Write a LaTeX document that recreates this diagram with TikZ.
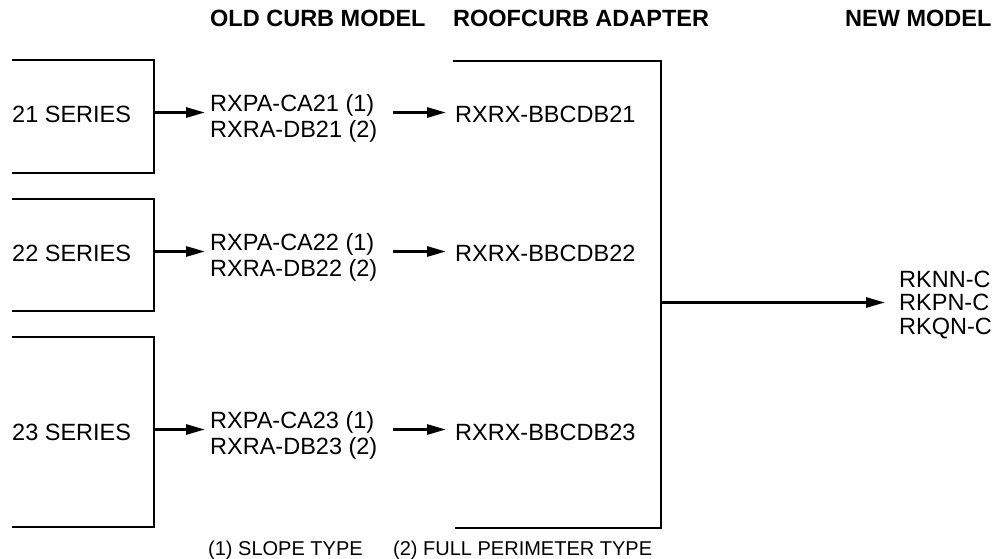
\documentclass[tikz,border=0pt]{standalone}
\usepackage{fontspec}
\setmainfont{Liberation Sans}
\usetikzlibrary{arrows.meta}
\begin{document}
\begin{tikzpicture}[x=1pt,y=-1pt,
  line/.style={line width=2.9pt},
  arr/.style={line width=2.9pt,-{Triangle[length=19pt,width=10pt]}},
  lbl/.style={inner sep=0pt,anchor=base west,font=\fontsize{23.5}{27}\selectfont},
  hdr/.style={inner sep=0pt,anchor=base west,font=\fontsize{23.5}{27}\selectfont\bfseries},
  foot/.style={inner sep=0pt,anchor=base west,font=\fontsize{20}{24}\selectfont}]
\useasboundingbox (0,0) rectangle (1008,558);
% headers
\node[hdr] (h1) at (210,26) {OLD CURB MODEL};
\node[hdr] (h2) at (453,26) {ROOFCURB ADAPTER};
\node[hdr] (h3) at (845,26) {NEW MODEL};
% left brackets
\draw[line] (12,60) -- (154,60) -- (154,173) -- (12,173);
\draw[line] (12,199) -- (154,199) -- (154,311) -- (12,311);
\draw[line] (12,337) -- (154,337) -- (154,527) -- (12,527);
\coordinate (b1) at (154,112.5);
\coordinate (b2) at (154,251.5);
\coordinate (b3) at (154,429.5);
% series labels
\node[lbl] (s1) at (12,122.5) {21 SERIES};
\node[lbl] (s2) at (12,261.5) {22 SERIES};
\node[lbl] (s3) at (12,440) {23 SERIES};
% old curb models
\node[lbl] (o1a) at (210,111) {RXPA-CA21 (1)};
\node[lbl] (o1b) at (210,137) {RXRA-DB21 (2)};
\node[lbl] (o2a) at (210,250) {RXPA-CA22 (1)};
\node[lbl] (o2b) at (210,276) {RXRA-DB22 (2)};
\node[lbl] (o3a) at (210,428.5) {RXPA-CA23 (1)};
\node[lbl] (o3b) at (210,454.5) {RXRA-DB23 (2)};
% adapters
\node[lbl] (a1) at (455,122.5) {RXRX-BBCDB21};
\node[lbl] (a2) at (455,261.5) {RXRX-BBCDB22};
\node[lbl] (a3) at (455,440) {RXRX-BBCDB23};
% arrows old
\draw[arr,shorten >=5pt] (b1) -- (b1 -| o1a.west);
\draw[arr,shorten >=5pt] (b2) -- (b2 -| o2a.west);
\draw[arr,shorten >=5pt] (b3) -- (b3 -| o3a.west);
\coordinate (c1) at (393,112.5);
\coordinate (c2) at (393,251.5);
\coordinate (c3) at (393,429.5);
\draw[arr,shorten >=9pt] (c1) -- (c1 -| a1.west);
\draw[arr,shorten >=9pt] (c2) -- (c2 -| a2.west);
\draw[arr,shorten >=9pt] (c3) -- (c3 -| a3.west);
% right bracket
\draw[line] (453,61) -- (661,61) -- (661,528) -- (455,528);
\coordinate (r) at (661,302.5);
% new models
\node[lbl] (n1) at (899,287) {RKNN-C};
\node[lbl] (n2) at (899,310.5) {RKPN-C};
\node[lbl] (n3) at (899,334) {RKQN-C};
\draw[arr,shorten >=14pt] (r) -- (r -| n2.west);
% footer
\node[foot] (f1) at (208,555) {(1) SLOPE TYPE};
\node[foot] (f2) at (393,555) {(2) FULL PERIMETER TYPE};
\end{tikzpicture}
\end{document}
